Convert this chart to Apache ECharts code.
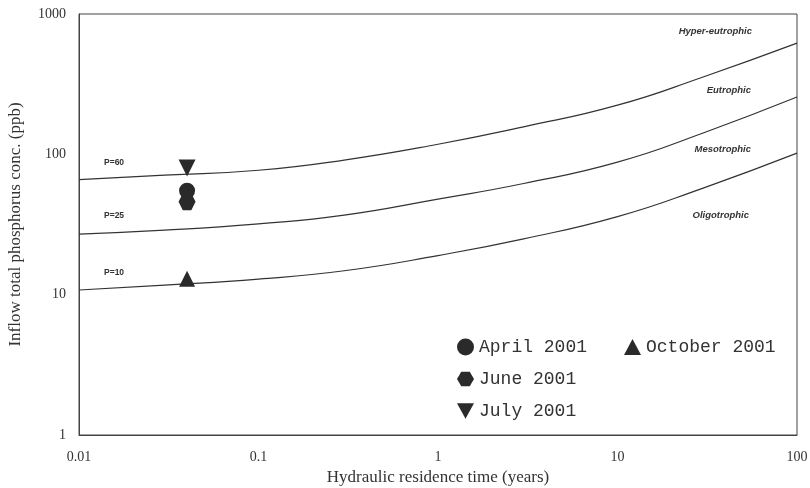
<!DOCTYPE html>
<html>
<head>
<meta charset="utf-8">
<script src="https://cdn.jsdelivr.net/npm/echarts@6/dist/echarts.min.js"></script>
<style>
  html, body { margin: 0; padding: 0; background: #fff; }
  #chart { width: 810px; height: 488px; }
</style>
</head>
<body>
<div id="chart"></div>
<script>
// 曲线读数 (x = 停留时间, y = 进水总磷)
const tauPts = [0.01, 0.03, 0.1, 0.3, 1, 3, 10, 30, 100];
const p60 = [66, 71, 77, 91, 118, 157, 224, 356, 620];
const p25 = [27, 28.8, 32, 36.9, 48, 62, 88, 142, 256];
const p10 = [10.8, 11.7, 12.9, 14.8, 19, 25, 36, 57.5, 102];

// 观测点
const sampleTau = 0.04;
const aprilP = 55;
const juneP = 46;
const julyP = 80;
const octoberP = 13;

const xTicks = [0.01, 0.1, 1, 10, 100];
const yTicks = [1, 10, 100, 1000];

const hexagon = 'path://M3,0 L9,0 L12,5.2 L9,10.4 L3,10.4 L0,5.2 Z';
const triDown = 'path://M0,0 L10,0 L5,9 Z';
const markColor = '#2a2a2a';

const toPairs = (ys) => tauPts.map((t, i) => [t, ys[i]]);

const lineSeries = (name, ys) => ({
  name: name,
  type: 'line',
  smooth: true,
  showSymbol: false,
  silent: true,
  data: toPairs(ys),
  lineStyle: { color: '#333', width: 1.2 },
  z: 1,
});

const pointSeries = (name, symbol, size, val) => ({
  name: name,
  type: 'scatter',
  symbol: symbol,
  symbolSize: size,
  data: [[sampleTau, val]],
  itemStyle: { color: markColor, opacity: 1 },
  z: 3,
});

const chart = echarts.init(document.getElementById('chart'));

// 区域标注, 右对齐
const zoneLabel = (x, y, text) => ({
  type: 'text',
  x: x,
  y: y,
  style: {
    text: text,
    fill: '#333',
    align: 'right',
    verticalAlign: 'middle',
    font: 'italic bold 9.5px "Liberation Sans", Arial, sans-serif',
  },
});

const pLabel = (x, y, text) => ({
  type: 'text',
  x: x,
  y: y,
  style: {
    text: text,
    fill: '#333',
    verticalAlign: 'middle',
    font: 'bold 8.5px "Liberation Sans", Arial, sans-serif',
  },
});

const monoText = { fontFamily: '"Liberation Mono", "Courier New", monospace', fontSize: 18, color: '#333' };
const serifText = { fontFamily: '"Liberation Serif", "Times New Roman", serif', color: '#333' };

const opt = {
  backgroundColor: '#fff',
  animation: false,
  grid: {
    left: 79,
    right: 13,
    top: 14,
    bottom: 53,
    outerBoundsMode: 'none',
    containLabel: false,
    show: true,
    borderColor: '#444',
    borderWidth: 1,
  },
  legend: [
    {
      data: [
        { name: 'April 2001', icon: 'circle' },
        { name: 'June 2001', icon: hexagon },
        { name: 'July 2001', icon: triDown },
      ],
      orient: 'vertical',
      left: 452,
      top: 333,
      itemWidth: 17,
      itemHeight: 17,
      itemGap: 14,
      textStyle: monoText,
    },
    {
      data: [{ name: 'October 2001', icon: 'triangle' }],
      left: 619,
      top: 333,
      itemWidth: 17,
      itemHeight: 16,
      textStyle: monoText,
    },
  ],
  xAxis: {
    type: 'log',
    logBase: 10,
    min: xTicks[0],
    max: xTicks[xTicks.length - 1],
    name: 'Hydraulic residence time (years)',
    nameLocation: 'middle',
    nameGap: 26,
    nameTextStyle: Object.assign({ fontSize: 17 }, serifText),
    axisLine: { lineStyle: { color: '#444' } },
    axisTick: { show: false },
    splitLine: { show: false },
    minorTick: { show: false },
    axisLabel: Object.assign({ margin: 15, fontSize: 14, formatter: (v) => String(v) }, serifText),
  },
  yAxis: {
    type: 'log',
    logBase: 10,
    min: yTicks[0],
    max: yTicks[yTicks.length - 1],
    name: 'Inflow total phosphorus conc. (ppb)',
    nameLocation: 'middle',
    nameGap: 55,
    nameTextStyle: Object.assign({ fontSize: 17 }, serifText),
    axisLine: { lineStyle: { color: '#444' } },
    axisTick: { show: false },
    splitLine: { show: false },
    axisLabel: Object.assign({ margin: 13, fontSize: 14, formatter: (v) => String(v) }, serifText),
  },
  graphic: [
    pLabel(104, 163, 'P=60'),
    pLabel(104, 216, 'P=25'),
    pLabel(104, 273, 'P=10'),
    zoneLabel(752, 31, 'Hyper-eutrophic'),
    zoneLabel(751, 90, 'Eutrophic'),
    zoneLabel(751, 149, 'Mesotrophic'),
    zoneLabel(749, 215, 'Oligotrophic'),
  ],
  series: [
    lineSeries('P=60', p60),
    lineSeries('P=25', p25),
    lineSeries('P=10', p10),
    pointSeries('April 2001', 'circle', 16, aprilP),
    pointSeries('June 2001', hexagon, 17, juneP),
    pointSeries('July 2001', triDown, 17, julyP),
    pointSeries('October 2001', 'triangle', 16, octoberP),
  ],
};

chart.setOption(opt);
</script>
</body>
</html>
